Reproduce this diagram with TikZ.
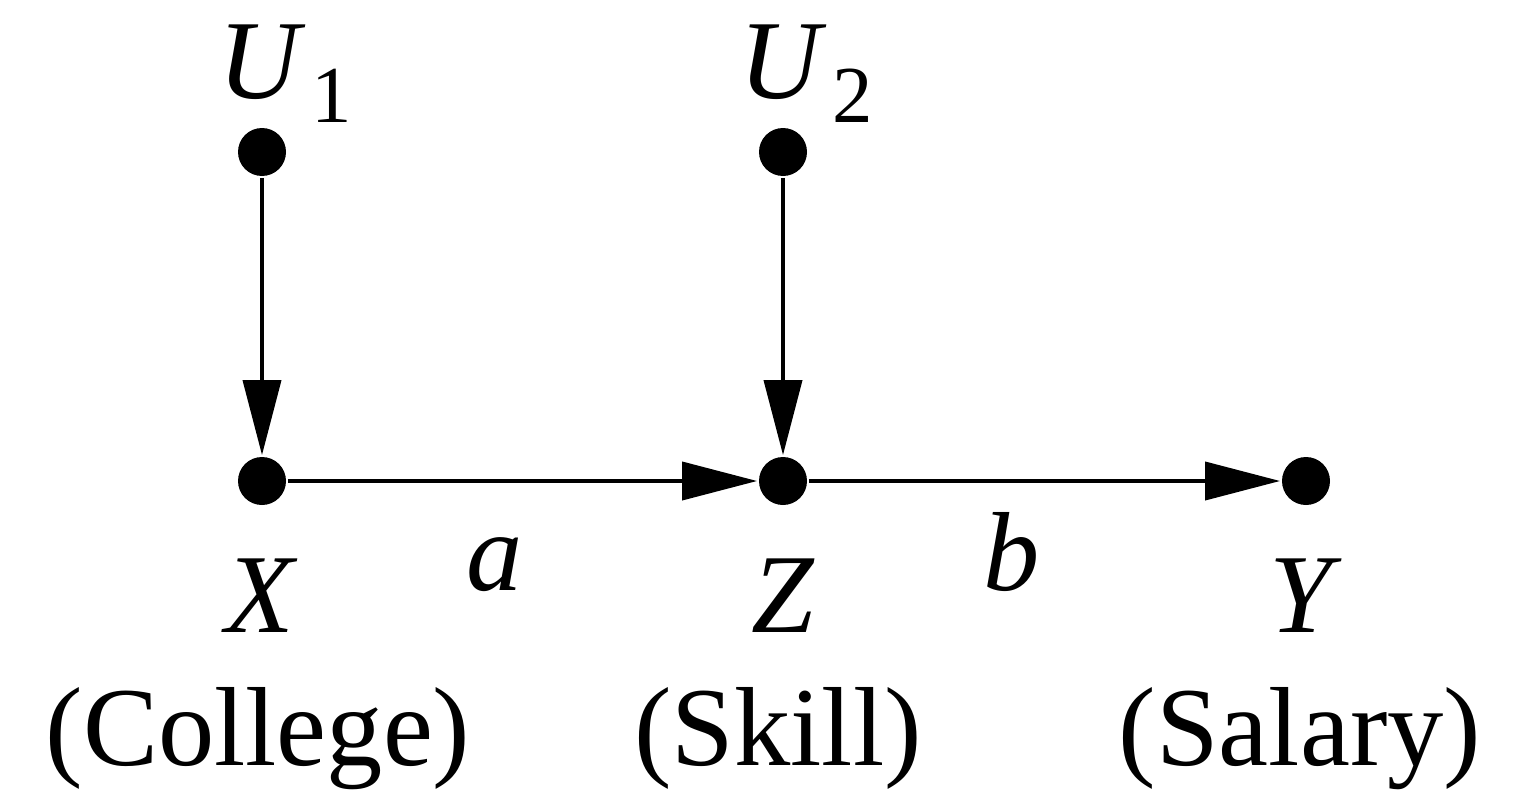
\documentclass[tikz,border=0pt]{standalone}
\usepackage{fontspec}
\setmainfont{Liberation Serif}
\usetikzlibrary{arrows.meta}

\begin{document}
\begin{tikzpicture}[>={Triangle[length=7.5mm, width=3.8mm]}, line width=1.1pt,
	dot/.style={circle, fill, inner sep=0pt, minimum size=4.8mm},
	lab/.style={font=\fontsize{32}{38}\selectfont, inner sep=0pt, anchor=base}]
	\useasboundingbox (0,0) rectangle (15.27,7.93);
	% the five variables
	\node[dot] (U1) at (2.62,6.41) {};
	\node[dot] (U2) at (7.83,6.41) {};
	\node[dot] (X) at (2.62,3.12) {};
	\node[dot] (Z) at (7.83,3.12) {};
	\node[dot] (Y) at (13.06,3.12) {};
	\draw[->] (U1) -- (X);
	\draw[->] (U2) -- (Z);
	\draw[->] (X) -- (Z);
	\draw[->] (Z) -- (Y);
	% names
	\node[lab] (u1lab) at ([yshift=5.4mm]U1.center) {\textit{U}\rlap{\kern0.05em\raisebox{-0.22em}{\fontsize{23}{23}\selectfont 1}}};
	\node[lab] (u2lab) at ([yshift=5.4mm]U2.center) {\textit{U}\rlap{\kern0.05em\raisebox{-0.22em}{\fontsize{23}{23}\selectfont 2}}};
	\node[lab] (xlab) at ([yshift=-15.1mm]X.center) {\textit{X}};
	\node[lab] (zlab) at ([yshift=-15.1mm]Z.center) {\textit{Z}};
	\node[lab] (ylab) at ([yshift=-15.1mm]Y.center) {\textit{Y}};
	\node[lab] (alab) at (4.95,2.03) {\textit{a}};
	\node[lab] (blab) at (10.12,2.03) {\textit{b}};
	\node[lab] (xname) at (2.58,0.28) {(College)};
	\node[lab] (zname) at (7.78,0.28) {(Skill)};
	\node[lab] (yname) at (13.00,0.28) {(Salary)};
\end{tikzpicture}
\end{document}
